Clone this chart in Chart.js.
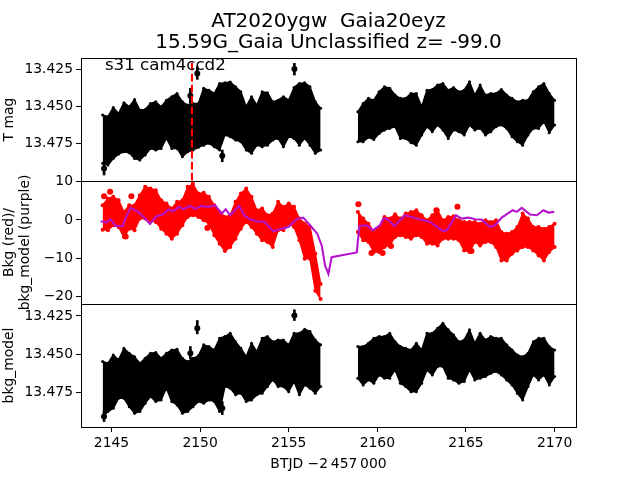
<!DOCTYPE html>
<html>
<head>
<meta charset="utf-8">
<style>
  html, body { margin: 0; padding: 0; background: #fff; }
  canvas { display: block; }
</style>
<script src="https://cdn.jsdelivr.net/npm/chart.js@4"></script>
</head>
<body>
<canvas id="lc" width="640" height="480"></canvas>
<script>
// sampled times of the two orbits, the second one starts at index 42
const times = [2144.5,2144.8,2145.1,2145.4,2145.7,2146.0,2146.3,2146.6,2146.9,2147.2,2147.5,2147.8,2148.1,2148.4,2148.7,2149.0,2149.3,2149.6,2149.9,2150.2,2150.5,2150.8,2151.1,2151.4,2151.7,2152.0,2152.3,2152.6,2152.9,2153.2,2153.5,2153.8,2154.1,2154.4,2154.7,2155.0,2155.3,2155.6,2155.9,2156.2,2156.5,2156.8,
  2158.9,2159.2,2159.5,2159.8,2160.1,2160.4,2160.7,2161.0,2161.3,2161.6,2161.9,2162.2,2162.5,2162.8,2163.1,2163.4,2163.7,2164.0,2164.3,2164.6,2164.9,2165.2,2165.5,2165.8,2166.1,2166.4,2166.7,2167.0,2167.3,2167.6,2167.9,2168.2,2168.5,2168.8,2169.1,2169.4,2169.7,2170.0];

// top panel, T mag envelope of the error bars
const magTop = [13.4558,13.4569,13.4507,13.4547,13.4475,13.4502,13.4453,13.4524,13.4520,13.4480,13.4469,13.4502,13.4458,13.4435,13.4413,13.4469,13.4491,13.4480,13.4480,13.4379,13.4391,13.4413,13.4346,13.4342,13.4337,13.4368,13.4402,13.4502,13.4435,13.4491,13.4402,13.4408,13.4469,13.4458,13.4435,13.4458,13.4373,13.4346,13.4342,13.4368,13.4469,13.4513,
  13.4536,13.4480,13.4446,13.4458,13.4402,13.4368,13.4379,13.4424,13.4446,13.4446,13.4413,13.4413,13.4502,13.4391,13.4386,13.4357,13.4346,13.4391,13.4373,13.4402,13.4391,13.4335,13.4424,13.4357,13.4424,13.4413,13.4413,13.4386,13.4424,13.4446,13.4469,13.4458,13.4458,13.4402,13.4368,13.4346,13.4413,13.4458];
const magBottom = [13.4881,13.4892,13.4848,13.4819,13.4803,13.4810,13.4848,13.4859,13.4825,13.4781,13.4792,13.4781,13.4714,13.4781,13.4781,13.4837,13.4803,13.4792,13.4774,13.4759,13.4747,13.4770,13.4792,13.4692,13.4703,13.4725,13.4736,13.4792,13.4814,13.4759,13.4770,13.4759,13.4725,13.4714,13.4770,13.4703,13.4714,13.4759,13.4714,13.4759,13.4814,13.4792,
  13.4736,13.4736,13.4707,13.4721,13.4681,13.4658,13.4647,13.4636,13.4714,13.4714,13.4743,13.4759,13.4692,13.4636,13.4669,13.4625,13.4658,13.4714,13.4658,13.4669,13.4692,13.4625,13.4658,13.4647,13.4692,13.4669,13.4636,13.4625,13.4647,13.4703,13.4736,13.4759,13.4692,13.4647,13.4647,13.4602,13.4676,13.4625];
const magOutT = [2149.84,2155.32,2149.45,2151.25,2144.58];
const magOut = [13.4279,13.4250,13.4428,13.4830,13.4915];
const magOutTop = [13.4235,13.4212,13.4379,13.4792,13.4881];
const magOutBottom = [13.4319,13.4290,13.4480,13.4870,13.4959];

// middle panel, background flux
const bkgTop = [3.87,5.62,6.06,5.18,2.11,3.87,3.87,6.50,8.69,8.25,7.81,5.18,4.30,2.99,4.74,5.18,8.69,9.39,6.94,7.11,6.06,3.87,2.11,0.80,1.23,4.74,6.94,8.25,6.06,2.55,2.99,1.23,1.67,4.74,3.43,4.30,3.43,0.36,-0.96,-1.84,-8.85,-16.74,
  2.11,0.36,-0.96,-3.15,-1.84,0.80,0.36,1.50,0.36,1.67,2.11,2.55,1.23,-0.08,1.23,2.55,-0.08,0.80,0.97,-0.08,-0.52,-0.52,-0.52,-0.96,-0.08,-0.52,-0.08,-3.15,-3.59,-3.15,-1.84,1.67,0.36,-1.84,-1.84,-2.27,-1.84,-0.96];
const bkgBottom = [-2.54,-2.71,-1.40,-1.84,-4.47,-2.27,-2.71,0.36,0.36,-0.08,-0.52,-2.27,-3.59,-4.90,-3.59,-1.40,0.80,1.23,0.80,-0.08,-0.96,-4.03,-6.22,-8.15,-7.10,-4.90,-2.27,-0.52,-1.84,-3.59,-5.34,-5.78,-7.10,-2.71,-2.71,-0.96,-1.84,-5.34,-10.17,-10.17,-18.50,-20.69,
  -3.15,-5.34,-5.78,-8.41,-8.41,-7.10,-6.66,-4.47,-4.03,-4.47,-4.90,-4.03,-4.47,-6.22,-6.22,-6.66,-4.90,-4.90,-4.90,-5.34,-7.97,-8.41,-5.78,-6.66,-5.78,-5.78,-7.10,-10.61,-10.61,-8.85,-7.97,-7.10,-7.10,-7.97,-9.29,-10.61,-8.41,-7.10];
const bkgOutT = [2144.58,2144.92,2146.12,2150.41,2145.8,2158.93,2164.52,2163.33,2159.67,2160.3,2165.31,2160.77];
const bkgOut = [6.23,7.37,6.23,-2.1,-4.3,4.13,3.43,2.55,-8.68,-8.68,-8.15,-6.83];

// background model, purple line
const modelT = [2144.39,2144.69,2144.95,2145.25,2145.63,2145.86,2146.08,2146.51,2146.89,2147.17,2147.55,2147.92,2148.21,2148.49,2148.81,2149.05,2149.43,2149.71,2150.09,2150.46,2150.84,2151.22,2151.44,2151.69,2152.21,2152.48,2152.82,2153.19,2153.66,2154.13,2154.51,2154.98,2155.45,2155.82,2156.20,2156.61,2156.86,2157.05,2157.24,2157.42,
  2158.84,2158.99,2159.40,2159.74,2160.15,2160.34,2160.53,2160.96,2161.56,2162.22,2162.97,2163.73,2163.92,2164.44,2164.76,2165.14,2165.51,2165.89,2166.36,2166.64,2167.02,2167.64,2167.87,2168.15,2168.62,2169.00,2169.37,2169.66,2169.98];
const modelV = [-0.34,-0.69,0.18,-1.57,-1.57,1.23,3.16,2.11,0.36,-1.05,0.97,1.50,2.73,2.29,3.43,2.81,3.69,2.90,3.69,3.34,3.87,1.67,2.81,1.23,3.69,1.23,0.18,-0.34,-0.52,-2.98,-2.45,-1.84,0.18,0.62,-1.40,-3.59,-6.66,-11.92,-14.11,-9.73,
  -8.50,-1.57,-1.40,-2.71,-1.40,0.36,0.36,-1.57,1.23,0.36,-0.52,-2.98,-2.71,1.23,0.36,0.62,0.18,0.09,-1.84,-1.40,0.62,2.55,2.11,3.16,1.41,1.23,2.55,1.94,2.11];

// bottom panel, background corrected mag
const corrTop = [13.4548,13.4559,13.4505,13.4537,13.4461,13.4494,13.4516,13.4559,13.4527,13.4494,13.4489,13.4527,13.4494,13.4472,13.4468,13.4527,13.4548,13.4527,13.4511,13.4439,13.4450,13.4472,13.4396,13.4385,13.4363,13.4418,13.4461,13.4516,13.4428,13.4483,13.4396,13.4385,13.4418,13.4407,13.4407,13.4439,13.4363,13.4363,13.4337,13.4352,13.4407,13.4439,
  13.4450,13.4450,13.4428,13.4396,13.4385,13.4385,13.4363,13.4418,13.4450,13.4461,13.4472,13.4428,13.4472,13.4363,13.4363,13.4330,13.4298,13.4341,13.4374,13.4418,13.4407,13.4341,13.4428,13.4363,13.4407,13.4385,13.4396,13.4396,13.4439,13.4472,13.4505,13.4516,13.4494,13.4418,13.4396,13.4396,13.4450,13.4472];
const corrBottom = [13.4908,13.4875,13.4854,13.4788,13.4788,13.4843,13.4886,13.4875,13.4821,13.4777,13.4810,13.4799,13.4723,13.4810,13.4832,13.4886,13.4875,13.4843,13.4810,13.4821,13.4799,13.4810,13.4875,13.4712,13.4723,13.4766,13.4755,13.4810,13.4799,13.4766,13.4755,13.4712,13.4668,13.4712,13.4712,13.4745,13.4679,13.4766,13.4701,13.4723,13.4755,13.4712,
  13.4657,13.4701,13.4668,13.4690,13.4636,13.4657,13.4657,13.4603,13.4690,13.4712,13.4745,13.4745,13.4690,13.4603,13.4636,13.4581,13.4581,13.4657,13.4668,13.4690,13.4679,13.4603,13.4668,13.4657,13.4646,13.4625,13.4614,13.4636,13.4668,13.4701,13.4755,13.4799,13.4712,13.4636,13.4668,13.4636,13.4701,13.4646];
const corrOutT = [2149.84,2155.32,2149.45,2151.25,2144.58];
const corrOut = [13.4330,13.4247,13.4494,13.4854,13.4908];
const corrOutTop = [13.4280,13.4210,13.4450,13.4810,13.4875];
const corrOutBottom = [13.4367,13.4280,13.4530,13.4895,13.4940];

// red dashed marker
const markT = [2149.54, 2149.54];
const markMag = [13.4208, 13.4999];
const markBkg = [10.2, 9.4];

const orbitSplit = 42;
const mag3 = v => v.toFixed(3);
const bars = (t, a, b) => t.map((x, i) => ({ x: x, y: [a[i], b[i]] }));
const pts = (t, v) => t.map((x, i) => ({ x: x, y: v[i] }));

// one orbit of a band is an upper line filled down to a lower line
const edge = (t, v, axis, color, fill, r) => ({
  type: 'line', data: pts(t, v), yAxisID: axis, xAxisID: 'x',
  borderColor: color, backgroundColor: color, borderWidth: 1.5, borderJoinStyle: 'round',
  pointRadius: r, pointBackgroundColor: color, pointBorderWidth: 0, fill: fill, order: 5
});
const band = (top, bottom, axis, color, r) => {
  const out = [];
  [[0, orbitSplit], [orbitSplit, times.length]].forEach(([a, b]) => {
    const t = times.slice(a, b);
    out.push(edge(t, top.slice(a, b), axis, color, '+1', r));
    out.push(edge(t, bottom.slice(a, b), axis, color, false, r));
  });
  return out;
};
const whisker = (t, a, b, axis) => ({
  type: 'bar', data: bars(t, a, b), yAxisID: axis, xAxisID: 'x',
  backgroundColor: '#000', barThickness: 2, grouped: false, order: 5
});
const dots = (t, v, axis, color, r) => ({
  type: 'scatter', data: pts(t, v), yAxisID: axis, xAxisID: 'x', showLine: false,
  pointRadius: r, pointBackgroundColor: color, pointBorderWidth: 0, order: 5
});
const dash = (v, axis) => ({
  type: 'line', data: pts(markT, v), yAxisID: axis, xAxisID: 'x', borderColor: '#ff0000',
  borderWidth: 2.1, borderDash: [7.7, 3.3], pointRadius: 0, order: 1
});

// frame around each of the panels
const framePlugin = {
  id: 'frames',
  afterDatasetsDraw(chart) {
    const { ctx, chartArea } = chart;
    ctx.save();
    ctx.strokeStyle = '#000';
    ctx.lineWidth = 1;
    ['y1', 'y2', 'y3'].forEach(id => {
      const s = chart.scales[id];
      ctx.strokeRect(chartArea.left + 0.5, Math.round(s.top) + 0.5, chartArea.right - chartArea.left, Math.round(s.bottom - s.top));
    });
    // sector label
    ctx.fillStyle = '#000';
    ctx.font = '16.67px "DejaVu Sans"';
    ctx.textBaseline = 'alphabetic';
    ctx.fillText('s31 cam4ccd2', chart.scales.x.getPixelForValue(2144.63), chart.scales.y1.getPixelForValue(13.4257));
    ctx.restore();
  }
};

const font = { family: '"DejaVu Sans"', size: 13.9 };
const yAxis = (min, max, step, label, cb) => ({
  type: 'linear', position: 'left', stack: 'panels', stackWeight: 1,
  min: min, max: max,
  grid: { drawOnChartArea: false, drawTicks: true, tickLength: 5, tickColor: '#000', tickWidth: 1 },
  border: { display: false },
  ticks: { stepSize: step, includeBounds: false, autoSkip: false, maxRotation: 0, color: '#000', font: font, padding: 3, callback: cb },
  title: { display: true, text: label, color: '#000', font: Object.assign({}, font, { lineHeight: 1.15 }), padding: { top: 1, bottom: 0 } },
  afterFit(scale) { scale.width = 81; }
});

const y1 = yAxis(13.4176, 13.4999, 0.025, 'T mag', mag3);
y1.reverse = true;
const y2 = yAxis(-22, 10.2, 10, ['Bkg (red)/', 'bkg_model (purple)'], v => String(v).replace('-', '\u2212'));
const y3 = yAxis(13.4172, 13.4976, 0.025, 'bkg_model', mag3);
y3.reverse = true;

new Chart(document.getElementById('lc'), {
  data: {
    datasets: [
      ...band(magTop, magBottom, 'y1', '#000', 1.5),
      whisker(magOutT, magOutTop, magOutBottom, 'y1'),
      dots(magOutT, magOut, 'y1', '#000', 3),
      dash(markMag, 'y1'),
      dash(markBkg, 'y2'),
      ...band(bkgTop, bkgBottom, 'y2', '#ff0000', 2),
      dots(bkgOutT, bkgOut, 'y2', '#ff0000', 3),
      {
        type: 'line', data: pts(modelT, modelV), yAxisID: 'y2', xAxisID: 'x',
        borderColor: '#b513c9', borderWidth: 2.1, pointRadius: 0, order: 2
      },
      ...band(corrTop, corrBottom, 'y3', '#000', 1.5),
      whisker(corrOutT, corrOutTop, corrOutBottom, 'y3'),
      dots(corrOutT, corrOut, 'y3', '#000', 3)
    ]
  },
  options: {
    responsive: false,
    animation: false,
    layout: { padding: { left: 0, right: 64, top: 0, bottom: 0 } },
    plugins: {
      legend: { display: false },
      tooltip: { enabled: false },
      title: {
        display: true,
        fullSize: false,
        text: ['AT2020ygw  Gaia20eyz', '15.59G_Gaia Unclassified z= -99.0'],
        color: '#000',
        font: { family: '"DejaVu Sans"', size: 20, weight: 'normal', lineHeight: 1.05 },
        padding: { top: 11, bottom: 5 }
      }
    },
    scales: {
      x: {
        type: 'linear', position: 'bottom', offset: false,
        min: 2143.279, max: 2171.21,
        grid: { offset: false, drawOnChartArea: false, drawTicks: true, tickLength: 5, tickColor: '#000', tickWidth: 1 },
        border: { display: false },
        ticks: { stepSize: 5, includeBounds: false, maxRotation: 0, color: '#000', font: font, padding: 3, callback: v => String(v) },
        title: { display: true, text: 'BTJD \u22122\u2009457\u2009000', color: '#000', font: font, padding: { top: 3, bottom: 7 } },
        afterFit(scale) { scale.height = 53; }
      },
      y3: y3,
      y2: y2,
      y1: y1
    }
  },
  plugins: [framePlugin]
});
</script>
</body>
</html>
